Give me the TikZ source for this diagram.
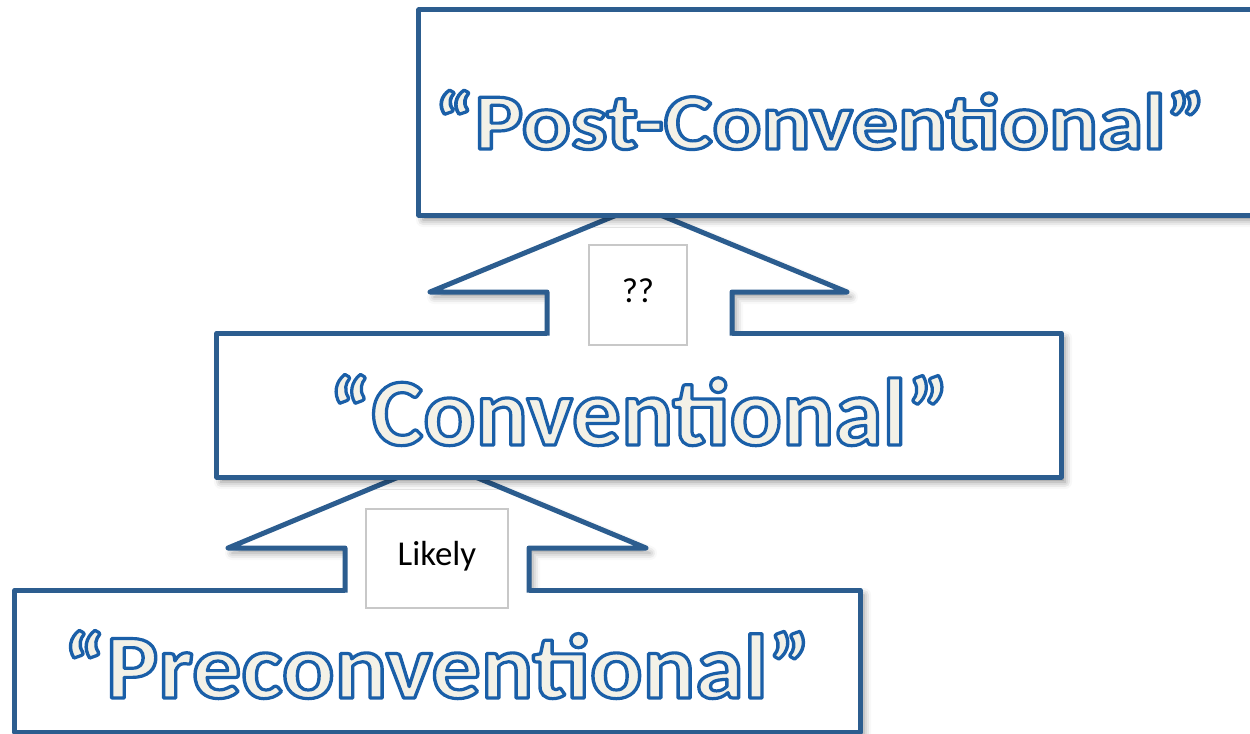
\documentclass[tikz,border=0pt]{standalone}
\usepackage{fontspec}
\setmainfont{Carlito}
\usetikzlibrary{shadows.blur}
\definecolor{boxblue}{HTML}{2C5D8F}
\definecolor{lblgray}{HTML}{C8C8C8}
\newcommand\outlinedtext[1]{\special{pdf:literal direct q 2 Tr 3.2 w 1 j 0.102 0.373 0.659 RG 0.953 0.945 0.906 rg}#1\special{pdf:literal direct Q}}
\newcommand\stretchedword[2]{\scalebox{#1}[1]{\outlinedtext{#2}}}
\begin{document}
\begin{tikzpicture}[x=1bp,y=-1bp,
  stagebox/.style={draw=boxblue, line width=5bp, fill=white, line join=round, inner sep=0pt,
    blur shadow={shadow xshift=4bp, shadow yshift=-5bp, shadow blur radius=7bp, shadow opacity=45}},
  arrowshadow/.style={fill=white, blur shadow={shadow xshift=4bp, shadow yshift=-5bp, shadow blur radius=7bp, shadow opacity=40}},
  arrowfill/.style={fill=white},
  arrowline/.style={draw=boxblue, line width=5bp, line join=round},
  lblbox/.style={draw=lblgray, line width=1.5bp, fill=white, inner sep=0pt},
  lbltxt/.style={font=\fontsize{35}{35}\selectfont, anchor=base, inner sep=0pt},
  bigtxt/.style={anchor=base, inner sep=0pt}]
\useasboundingbox (0,0) rectangle (1250,734);
\clip (0,0) rectangle (1250,734);
% bottom box
\node[stagebox, minimum width=845bp, minimum height=142bp] (pre) at (437.5,661) {};
% lower arrow
\begin{scope}
\clip (0,0) rectangle (1250,587.5);
\path[arrowshadow] (437,461) -- (646,548) -- (529,548) -- (529,593) -- (345,593) -- (345,548) -- (228,548) -- cycle;
\end{scope}
\path[arrowfill] (437,461) -- (646,548) -- (529,548) -- (529,593) -- (345,593) -- (345,548) -- (228,548) -- cycle;
\draw[arrowline] (345,592.5) -- (345,548) -- (228,548) -- (437,461) -- (646,548) -- (529,548) -- (529,592.5);
% middle box
\node[stagebox, minimum width=844bp, minimum height=144bp] (conv) at (639,405) {};
% upper arrow
\begin{scope}
\clip (0,0) rectangle (1250,330.5);
\path[arrowshadow] (638.5,206) -- (847,292) -- (732,292) -- (732,336) -- (547,336) -- (547,292) -- (430,292) -- cycle;
\end{scope}
\path[arrowfill] (638.5,206) -- (847,292) -- (732,292) -- (732,336) -- (547,336) -- (547,292) -- (430,292) -- cycle;
\draw[arrowline] (547,335.5) -- (547,292) -- (430,292) -- (638.5,206) -- (847,292) -- (732,292) -- (732,335.5);
% top box
\node[stagebox, minimum width=860bp, minimum height=205bp] (post) at (849,112.5) {};
% label boxes
\node[lblbox, minimum width=98bp, minimum height=100bp] (qbox) at (638,295) {};
\node[lbltxt] (qtxt) at (638,302) {??};
\node[lblbox, minimum width=142bp, minimum height=99bp] (lbox) at (437,558.5) {};
\node[lbltxt] (ltxt) at (437,565) {Likely};
% big texts
\node[bigtxt, font=\bfseries\fontsize{80}{80}\selectfont] (posttxt) at (820,149) {\stretchedword{1.148}{“Post-Conventional”}};
\node[bigtxt, font=\bfseries\fontsize{96}{96}\selectfont] (convtxt) at (639,445) {\stretchedword{1.02}{“Conventional”}};
\node[bigtxt, font=\bfseries\fontsize{92}{92}\selectfont] (pretxt) at (437,698) {\stretchedword{1.07}{“Preconventional”}};
\end{tikzpicture}
\end{document}
